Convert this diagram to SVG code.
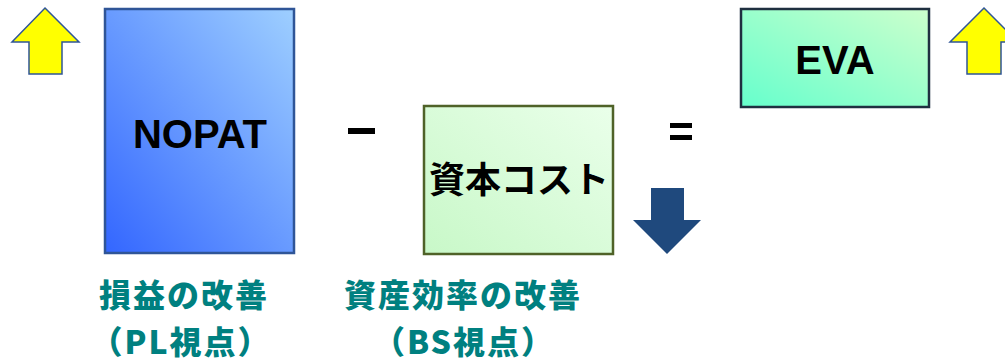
<svg xmlns="http://www.w3.org/2000/svg" width="1005" height="363" viewBox="0 0 1005 363">
<style>
.lbl{font-family:"Liberation Sans",Arial,sans-serif;font-weight:bold;font-size:40px;fill:#000;text-anchor:middle}
.jp{font-family:"Noto Sans CJK JP",sans-serif;font-weight:bold;text-anchor:middle}
.teal{fill:#008080;font-size:32px;font-weight:900;letter-spacing:2px}
.up{fill:#FFFF00;stroke:#2F5597;stroke-width:1.5}
</style>
<defs>
<linearGradient id="gBlue" x1="0" y1="1" x2="1" y2="0">
<stop offset="0" stop-color="#3366FF"/>
<stop offset="1" stop-color="#9ECFFF"/>
</linearGradient>
<linearGradient id="gGreen" x1="0" y1="1" x2="1" y2="0">
<stop offset="0" stop-color="#C8F8C8"/>
<stop offset="1" stop-color="#EAFFEA"/>
</linearGradient>
<linearGradient id="gEva" x1="0" y1="1" x2="1" y2="0">
<stop offset="0" stop-color="#66FFCC"/>
<stop offset="1" stop-color="#CCFFCC"/>
</linearGradient>
</defs>
<g id="arrow-up-left">
<polygon class="up" points="45,8 79,42 62,42 62,74 29,74 29,42 12,42"/>
</g>
<g id="nopat">
<rect x="105" y="9" width="189" height="244" fill="url(#gBlue)" stroke="#2F5597" stroke-width="2.5"/>
<text class="lbl" x="200" y="148">NOPAT</text>
</g>
<g id="minus">
<rect x="348" y="128" width="27" height="6" fill="#000"/>
</g>
<g id="capital-cost">
<rect x="424" y="106" width="189" height="148" fill="url(#gGreen)" stroke="#4F6228" stroke-width="2.5"/>
<text class="jp" x="519" y="193" font-size="36">資本コスト</text>
</g>
<g id="equals">
<rect x="670" y="123" width="22" height="5" fill="#000"/>
<rect x="670" y="135" width="22" height="5" fill="#000"/>
</g>
<g id="arrow-down">
<polygon fill="#1F497D" points="651,188 684,188 684,220 701,220 667,254 633,220 651,220"/>
</g>
<g id="eva">
<rect x="741" y="9" width="188" height="98" fill="url(#gEva)" stroke="#1F2F40" stroke-width="2.5"/>
<text class="lbl" x="835" y="74">EVA</text>
</g>
<g id="arrow-up-right">
<polygon class="up" points="984,8 1018,42 1001,42 1001,74 967,74 967,42 950,42"/>
</g>
<g id="label-pl">
<text class="jp teal" x="184" y="307">損益の改善</text>
<text class="jp teal" x="181" y="353.5">（PL視点）</text>
</g>
<g id="label-bs">
<text class="jp teal" x="463" y="307">資産効率の改善</text>
<text class="jp teal" x="464" y="353.5">（BS視点）</text>
</g>
</svg>
